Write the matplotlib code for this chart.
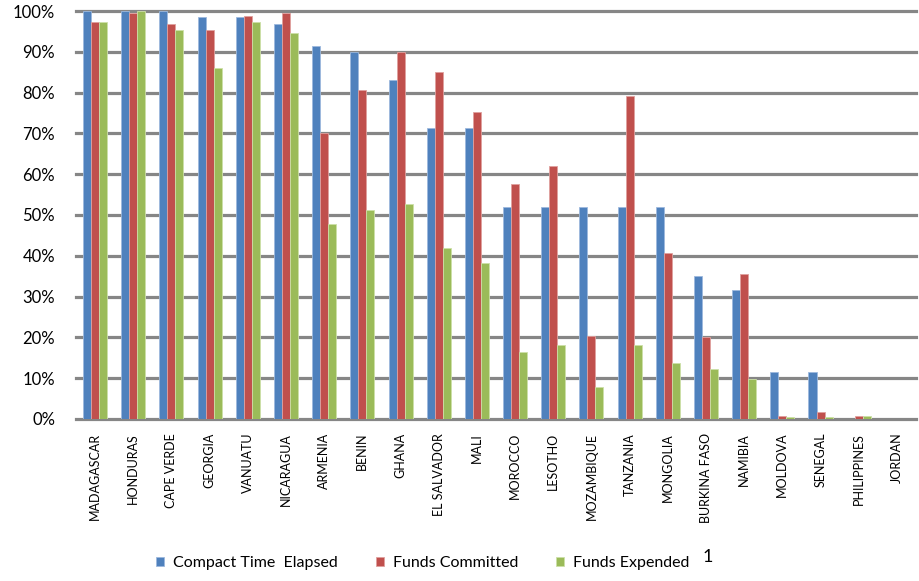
import matplotlib
matplotlib.use("Agg")
import matplotlib.pyplot as plt
import numpy as np
from matplotlib.ticker import PercentFormatter

plt.rcParams['font.family'] = ['Lato', 'DejaVu Sans']

countries = ['MADAGASCAR', 'HONDURAS', 'CAPE VERDE', 'GEORGIA', 'VANUATU', 'NICARAGUA',
             'ARMENIA', 'BENIN', 'GHANA', 'EL SALVADOR', 'MALI', 'MOROCCO', 'LESOTHO',
             'MOZAMBIQUE', 'TANZANIA', 'MONGOLIA', 'BURKINA FASO', 'NAMIBIA', 'MOLDOVA',
             'SENEGAL', 'PHILIPPINES', 'JORDAN']

# values in percent
time_elapsed = [100, 100, 100, 98.5, 98.5, 96.8, 91.4, 90, 83.1, 71.3, 71.3, 51.9, 51.9,
                51.9, 51.9, 51.9, 35.1, 31.7, 11.6, 11.6, 0, 0]
funds_committed = [97.3, 99.4, 96.8, 95.4, 98.9, 99.4, 70, 80.7, 90, 85, 75.3, 57.6, 62,
                   20.3, 79.2, 40.6, 20, 35.6, 0.8, 1.8, 0.6, 0]
funds_expended = [97.3, 100, 95.4, 86, 97.3, 94.5, 47.8, 51.2, 52.7, 42, 38.2, 16.5, 18,
                  7.7, 18, 13.6, 12.2, 9.8, 0.5, 0.5, 0.6, 0]

series = [("Compact Time  Elapsed", time_elapsed, '#4F81BD', '#9DB9DD'),
          ("Funds Committed", funds_committed, '#C0504D', '#E0A09E'),
          ("Funds Expended", funds_expended, '#9BBB59', '#CDE0A8')]

fig = plt.figure(figsize=(9.19, 5.81), dpi=100)
ax = fig.add_axes([0.0827, 0.279, 0.914, 0.702])

x = np.arange(len(countries))
w = 0.21
for i, (name, vals, col, edge) in enumerate(series):
    ax.bar(x + (i - 1) * w, vals, width=w, color=col, edgecolor=edge,
           linewidth=0.6, label=name, zorder=3)

ax.set_xlim(-0.5, len(countries) - 0.5)
ax.set_ylim(0, 100)
ax.set_yticks(np.arange(0, 101, 10))
ax.yaxis.set_major_formatter(PercentFormatter(decimals=0))
ax.grid(axis='y', color='#868686', linewidth=2.3, zorder=0)
ax.set_axisbelow(True)
for gl in ax.get_ygridlines():
    gl.set_clip_on(False)
for s in ['top', 'right', 'left', 'bottom']:
    ax.spines[s].set_visible(False)

ax.set_xticks(x)
ax.set_xticklabels(countries, rotation=90, fontsize=9, va='top', ha='center')
ax.tick_params(axis='both', length=0)
ax.tick_params(axis='x', pad=10)
ax.tick_params(axis='y', labelsize=12, pad=15)

fig.legend(loc='center left', bbox_to_anchor=(156 / 919, 0.031), ncol=3, frameon=False,
           fontsize=11.5, handlelength=0.5, handleheight=0.5, columnspacing=2.4,
           handletextpad=0.55, borderpad=0, borderaxespad=0)
fig.text(703 / 919, 1 - 557 / 581, "1", fontsize=13, ha='left', va='center')

fig.savefig("out.png", dpi=100)
